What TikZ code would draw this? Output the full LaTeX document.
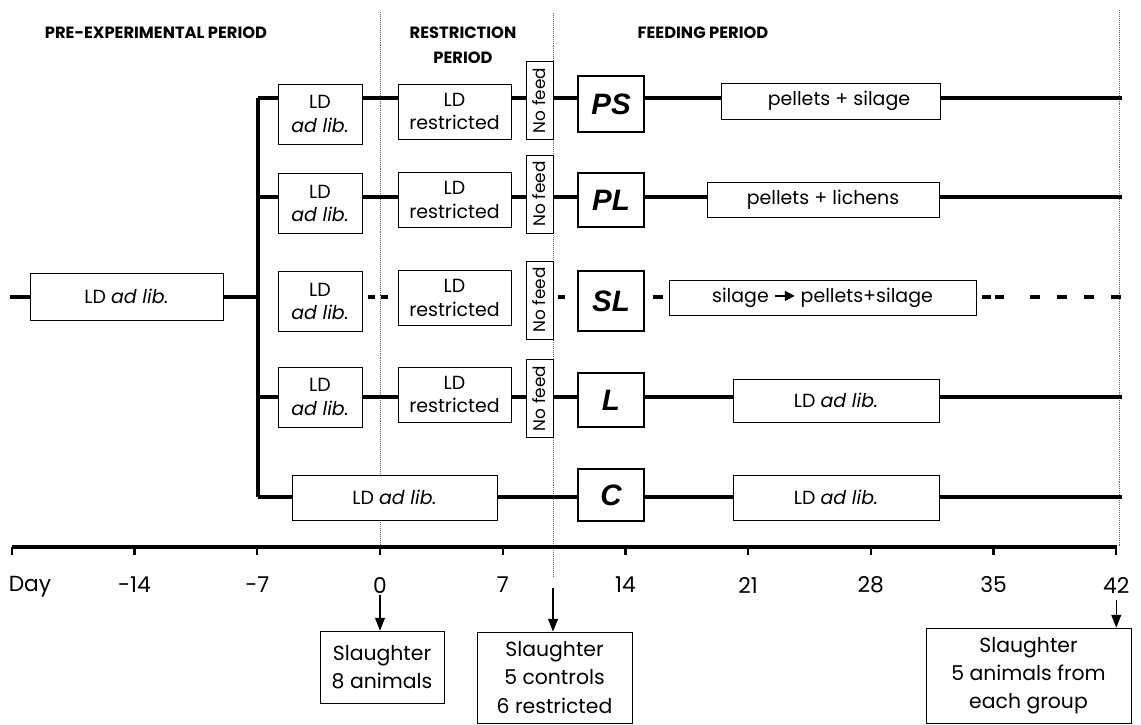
\documentclass[tikz,border=0pt]{standalone}
\usepackage{fontspec}
\setmainfont{Poppins}
\newfontfamily\grpfont{Liberation Sans}
\usetikzlibrary{arrows.meta,calc}

\tikzset{
  box/.style={draw, line width=0.6pt, fill=white, align=center, inner sep=0pt,
    font=\fontsize{13.5}{17}\selectfont},
  grp/.style={draw, line width=0.9pt, fill=white, inner sep=0pt,
    font=\grpfont\fontsize{21}{22}\selectfont\bfseries\itshape},
  nofeed/.style={box, font=\fontsize{12}{13}\selectfont},
  sz/.style 2 args={minimum width=#1*0.025cm, minimum height=#2*0.025cm},
  rowline/.style={line width=2.8pt},
  period/.style={font=\fontsize{11.6}{18}\selectfont\bfseries, align=center},
  guide/.style={densely dotted, line width=0.4pt, black!60},
  slaughter/.style={draw, line width=0.6pt, fill=white, align=center, inner sep=0pt,
    font=\fontsize{14.5}{20}\selectfont},
  daylab/.style={font=\fontsize{15.5}{17}\selectfont, inner sep=1pt},
  down/.style={-{Triangle[width=7pt,length=9pt]}, line width=0.8pt},
}

\begin{document}
\begin{tikzpicture}[x=0.025cm, y=-0.025cm]
  \useasboundingbox (0,0) rectangle (1141,724);

  % Period titles
  \node[period] (pre) at (156,33) {PRE-EXPERIMENTAL PERIOD};
  \node[period] (restr) at (463,45.5) {RESTRICTION\\PERIOD};
  \node[period] (feed) at (703,33) {FEEDING PERIOD};

  % Dotted guides at day 0, day 10 and day 42
  \coordinate (g0t) at (380,12);   \coordinate (g0b) at (380,547);
  \coordinate (g10t) at (553,13);  \coordinate (g10b) at (553,577);
  \coordinate (g42t) at (1119,10); \coordinate (g42b) at (1119,547);
  \draw[guide] (g0t) -- (g0b);
  \draw[guide] (g10t) -- (g10b);
  \draw[guide] (g42t) -- (g42b);

  % Row levels
  \coordinate (r1) at (258,98);  \coordinate (e1) at (1122,98);
  \coordinate (r2) at (258,197); \coordinate (e2) at (1122,197);
  \coordinate (r3) at (258,297); \coordinate (e3) at (1122,297);
  \coordinate (r4) at (258,397); \coordinate (e4) at (1122,397);
  \coordinate (r5) at (258,497); \coordinate (e5) at (1122,497);
  \coordinate (s3) at (10,297);

  % Pre-experimental and restriction boxes
  \node[box, sz={193}{47}] (L0) at (126.5,296.5) {LD \textit{ad lib.}};
  \foreach \i/\ya/\yb/\yn in {1/114/111.5/100.5, 2/203.5/200/194, 3/301.5/298/300, 4/397/394.5/398.5} {
    \node[box, sz={84}{60}] (a\i) at (320,\ya) {LD\\\textit{ad lib.}};
    \node[box, sz={113}{55}] (b\i) at (454.5,\yb) {LD\\restricted};
    \node[nofeed, sz={78}{27}, rotate=90] (n\i) at (539.5,\yn) {No feed};
  }
  \node[box, sz={205}{45}] (c5) at (394.5,497.5) {LD \textit{ad lib.}};

  % Groups
  \node[grp, sz={66}{56}] (g1) at (611,104) {PS};
  \node[grp, sz={66}{54}] (g2) at (611,200) {PL};
  \node[grp, sz={66}{60}] (g3) at (611,301) {SL};
  \node[grp, sz={66}{54}] (g4) at (611,400) {L};
  \node[grp, sz={66}{52}] (g5) at (611,495) {C};

  % Feeding period diets
  \node[box, sz={219}{36}] (f1) at (830.5,101) {\hspace*{12pt}pellets + silage};
  \node[box, sz={232}{35}] (f2) at (823,199.5) {pellets + lichens};
  \node[box, sz={307}{35}] (f3) at (822.5,297.5) {silage
    \tikz[baseline=-0.6ex]\draw[-{Triangle[width=7pt,length=7pt]}, line width=1.2pt] (0,0) -- (0.5cm,0);
    pellets+silage};
  \node[box, sz={206}{43}] (f4) at (836,400.5) {LD \textit{ad lib.}};
  \node[box, sz={206}{45}] (f5) at (836,497.5) {LD \textit{ad lib.}};

  % Group lines
  \draw[line width=3.2pt] (r1) -- (r5);
  \foreach \i in {1,2,4} {
    \draw[rowline] (r\i) -- (a\i.west |- r\i) (a\i.east |- r\i) -- (b\i.west |- r\i)
      (b\i.east |- r\i) -- (n\i.north |- r\i) (n\i.south |- r\i) -- (g\i.west |- r\i)
      (g\i.east |- r\i) -- (f\i.west |- r\i) (f\i.east |- r\i) -- (e\i);
  }
  \draw[rowline] (r5) -- (c5.west |- r5) (c5.east |- r5) -- (g5.west |- r5)
    (g5.east |- r5) -- (f5.west |- r5) (f5.east |- r5) -- (e5);

  % Row 3 (SL), partly dashed
  \draw[rowline] (s3) -- (L0.west |- s3) (L0.east |- s3) -- (r3);
  \draw[rowline, dash pattern=on 0.175cm off 0.15cm] ($(a3.east |- r3)+(6,0)$) -- ($(b3.west |- r3)+(-10,0)$);
  \draw[rowline] ($(n3.south |- r3)+(5,0)$) -- +(7,0);
  \draw[rowline] ($(g3.east |- r3)+(8,0)$) -- +(10,0);
  \draw[rowline, dash pattern=on 0.225cm off 0.1cm] ($(f3.east |- r3)+(6,0)$) -- +(22,0);
  \draw[rowline, dash pattern=on 0.25cm off 0.425cm] ($(f3.east |- r3)+(54,0)$) -- (e3);

  % Time axis
  \coordinate (ax0) at (12,547);
  \coordinate (ax1) at (1117,547);
  \draw[line width=2.6pt] (ax0) -- (ax1);
  \draw[line width=1.6pt] (ax0) -- ++(0,8);
  \node[daylab] (day) at (30,587) {Day};
  \foreach \d in {-14,-7,0,7,14,21,28,35,42} {
    \draw[line width=1.6pt] ({380+17.53*\d},547) -- ++(0,8);
    \node[daylab] (d\d) at ({380+17.53*\d},585) {\d};
  }

  % Slaughter
  \node[slaughter, sz={124}{72}] (sl0) at (382,667) {Slaughter\\8 animals};
  \node[slaughter, sz={155}{91}] (sl10) at (554.5,677.5) {Slaughter\\5 controls\\6 restricted};
  \node[slaughter, sz={205}{95}] (sl42) at (1028.5,675.5) {Slaughter\\5 animals from\\each group};
  \coordinate (a10) at (553,588);
  \draw[down] (d0.south) -- (d0.south |- sl0.north);
  \draw[down] (a10) -- (a10 |- sl10.north);
  \draw[down] ([yshift=-4pt]d42.south) -- (d42.south |- sl42.north);
\end{tikzpicture}
\end{document}
